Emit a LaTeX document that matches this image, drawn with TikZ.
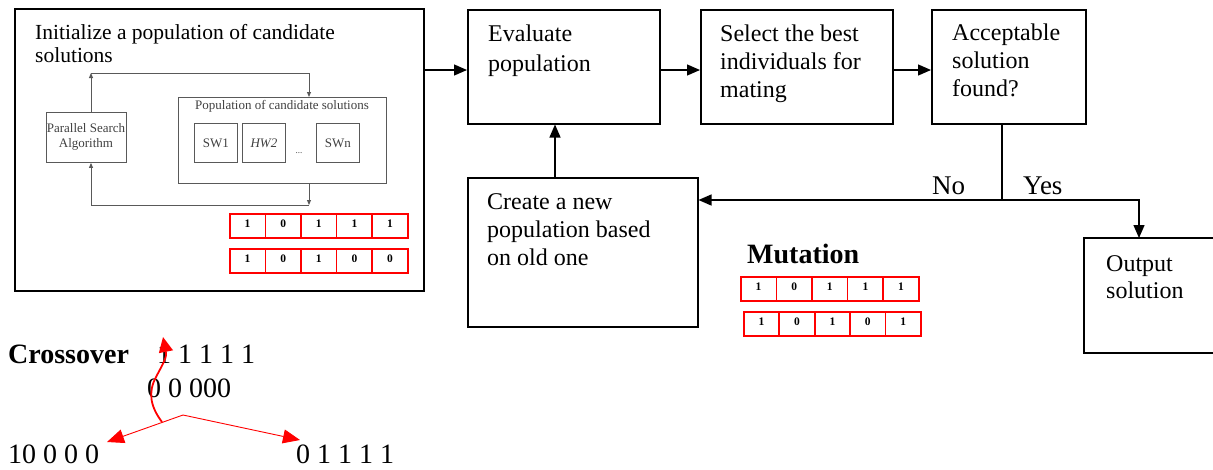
\documentclass[tikz,border=0pt]{standalone}
\usepackage{fontspec}
\setmainfont{Liberation Serif}
\usetikzlibrary{arrows.meta}
\definecolor{ingray}{rgb}{0.35,0.35,0.35}
\definecolor{intext}{rgb}{0.25,0.25,0.25}
\tikzset{
  box/.style={draw, line width=1.5pt, inner sep=0pt, anchor=north west},
  inbox/.style={draw=ingray, line width=0.9pt, inner sep=0pt, anchor=north west},
  txt/.style={anchor=base west, align=left, inner sep=0pt, font=\fontsize{24}{27.6}\selectfont},
  intxt/.style={text=intext, inner sep=0pt, font=\fontsize{13}{15}\selectfont},
  cell/.style={color=red, draw=red, text=black, line width=1.6pt, anchor=north west, minimum width=35.6pt, minimum height=24pt, inner sep=0pt, text depth=5pt, font=\fontsize{11.5}{12}\selectfont\bfseries},
  mainarr/.style={line width=1.3pt, -{Triangle[length=13pt,width=11pt]}},
  mainline/.style={line width=1.3pt},
  inarr/.style={draw=ingray, line width=0.9pt, -{Triangle[length=5pt,width=4pt]}},
  redarr/.style={red, line width=0.9pt, -{Triangle[length=17pt,width=14pt]}},
  bigtxt/.style={anchor=base west, inner sep=0pt, font=\fontsize{28}{30}\selectfont},
}
\begin{document}
\begin{tikzpicture}[x=1pt,y=-1pt]
\useasboundingbox (0,0) rectangle (1213,469);

% main boxes
\node[box, minimum width=409pt, minimum height=282pt] (init) at (14,8) {};
\node[box, minimum width=192pt, minimum height=114pt] (eval) at (467,9) {};
\node[box, minimum width=192pt, minimum height=114pt] (sel) at (700,9) {};
\node[box, minimum width=154pt, minimum height=114pt] (acc) at (931,9) {};
\node[box, minimum width=230pt, minimum height=149pt] (create) at (467,177) {};
\draw[line width=1.5pt] (1214,238) -- (1084,238) -- (1084,353) -- (1214,353);
\coordinate (outtop) at (1139,238);

% main texts (anchor base = baseline of last line)
\node[txt, font=\fontsize{21.5}{23}\selectfont] (tinit) at (35,62) {Initialize a population of candidate\\solutions};
\node[txt, font=\fontsize{24}{29.5}\selectfont] (teval) at (488,71) {Evaluate\\population};
\node[txt] (tsel) at (720,97) {Select the best\\individuals for\\mating};
\node[txt] (tacc) at (952,96) {Acceptable\\solution\\found?};
\node[txt] (tcreate) at (487,265) {Create a new\\population based\\on old one};
\node[txt, font=\fontsize{24}{26.5}\selectfont] (tout) at (1106,298) {Output\\solution};

% main connectors
\draw[mainarr] (init.east |- 0,70) -- (eval.west |- 0,70);
\draw[mainarr] (eval.east |- 0,70) -- (sel.west |- 0,70);
\draw[mainarr] (sel.east |- 0,70) -- (acc.west |- 0,70);
\draw[mainarr] (create.north -| 555,0) -- (eval.south -| 555,0);
\coordinate (split) at (1002,200);
\draw[mainline] (acc.south -| split) -- (split);
\draw[mainarr] (split) -- (create.east |- split);
\draw[mainarr] (split) -| (outtop);
\node[anchor=base west, inner sep=0pt, font=\fontsize{27}{30}\selectfont] (no) at (932,194) {No};
\node[anchor=base west, inner sep=0pt, font=\fontsize{27}{30}\selectfont] (yes) at (1023,194) {Yes};

% inner diagram
\node[inbox, minimum width=80pt, minimum height=50pt] (psa) at (46,112) {};
\node[intxt, align=center] (tpsa) at (86,137) {Parallel Search\\Algorithm};
\node[inbox, minimum width=208pt, minimum height=86pt] (pop) at (178,97) {};
\node[intxt] (tpop) at (282,106) {Population of candidate solutions};
\node[inbox, minimum width=43pt, minimum height=39pt] (sw1) at (194,123) {};
\node[inbox, minimum width=43pt, minimum height=39pt] (hw2) at (242,123) {};
\node[inbox, minimum width=43pt, minimum height=39pt] (swn) at (316,123) {};
\node[intxt] (tsw1) at (sw1.center) {SW1};
\node[intxt, font=\fontsize{13}{15}\selectfont\itshape] (thw2) at (hw2.center) {HW2};
\node[intxt] (tswn) at (swn.center) {SWn};
\node[intxt, font=\fontsize{9}{10}\selectfont] (dots) at (299,153) {...};
\coordinate (c1) at (91,73);
\coordinate (c2) at (309,73);
\coordinate (c3) at (309,205);
\coordinate (c4) at (91,205);
\draw[inarr] (c1 |- psa.north) -- (c1);
\draw[inarr] (c1) -- (c2) -- (c2 |- pop.north);
\draw[inarr] (c3 |- pop.south) -- (c3);
\draw[inarr] (c3) -- (c4) -- (c4 |- psa.south);

% red bit rows in initialize box
\foreach \b [count=\i] in {1,0,1,1,1}
  \node[cell] (ra\i) at ({229+35.6*(\i-1)},213) {\b};
\foreach \b [count=\i] in {1,0,1,0,0}
  \node[cell] (rb\i) at ({229+35.6*(\i-1)},248) {\b};

% mutation
\node[bigtxt, font=\fontsize{28}{30}\selectfont\bfseries] (mut) at (747,263) {Mutation};
\foreach \b [count=\i] in {1,0,1,1,1}
  \node[cell] (ma\i) at ({740+35.6*(\i-1)},276) {\b};
\foreach \b [count=\i] in {1,0,1,0,1}
  \node[cell] (mb\i) at ({743+35.4*(\i-1)},311) {\b};

% crossover
\node[bigtxt, font=\fontsize{28}{30}\selectfont\bfseries] (cross) at (8,363) {Crossover};
\node[bigtxt] (p1) at (157,363) {1 1 1 1 1};
\node[bigtxt] (p2) at (147,397) {0 0 000};
\node[bigtxt] (ch1) at (8,463) {10 0 0 0};
\node[bigtxt] (ch2) at (296,463) {0 1 1 1 1};
\coordinate (jn) at (183,415);
\coordinate (lt) at (107,442);
\coordinate (rt) at (300,440);
\draw[redarr] (jn) -- (lt);
\draw[redarr] (jn) -- (rt);
\coordinate (ws) at (162,422);
\coordinate (we) at (163,337);
\draw[red, line width=1.8pt, -{Triangle[length=15pt,width=14pt]}] (ws) .. controls (150,406) and (148,392) .. (156,377) .. controls (164,362) and (167,357) .. (we);
\end{tikzpicture}
\end{document}
